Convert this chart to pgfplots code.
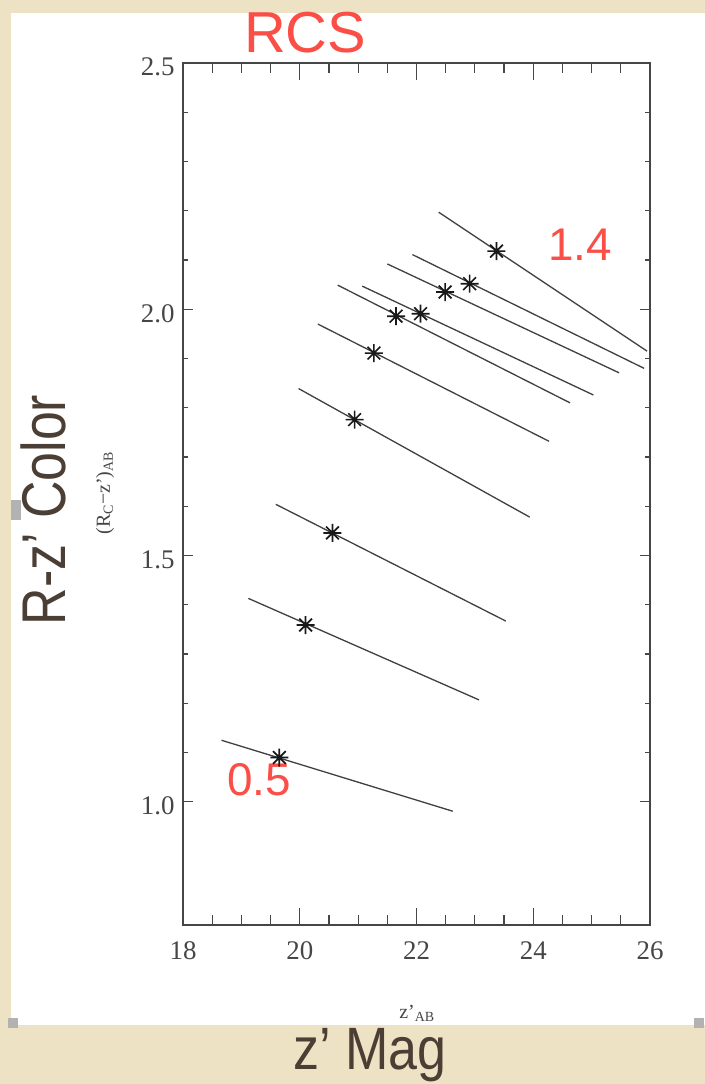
\documentclass[border=0pt]{standalone}
\usepackage{fontspec}
\setmainfont{Liberation Serif}
\newfontfamily\arialf{Liberation Sans}
\usepackage{graphicx}
\usepackage{pgfplots}
\pgfplotsset{compat=1.18}
\definecolor{parch}{RGB}{238,226,196}
\definecolor{rcsred}{RGB}{250,78,70}
\definecolor{brownt}{RGB}{75,63,53}
\definecolor{axgray}{RGB}{70,70,70}
\pgfdeclareplotmark{ast8}{%
  \pgfpathmoveto{\pgfpoint{-\pgfplotmarksize}{0pt}}\pgfpathlineto{\pgfpoint{\pgfplotmarksize}{0pt}}%
  \pgfpathmoveto{\pgfpoint{0pt}{-\pgfplotmarksize}}\pgfpathlineto{\pgfpoint{0pt}{\pgfplotmarksize}}%
  \pgfpathmoveto{\pgfpoint{-0.707\pgfplotmarksize}{-0.707\pgfplotmarksize}}\pgfpathlineto{\pgfpoint{0.707\pgfplotmarksize}{0.707\pgfplotmarksize}}%
  \pgfpathmoveto{\pgfpoint{-0.707\pgfplotmarksize}{0.707\pgfplotmarksize}}\pgfpathlineto{\pgfpoint{0.707\pgfplotmarksize}{-0.707\pgfplotmarksize}}%
  \pgfusepathqstroke}
\pgfplotsset{
  common/.style={
    at={(183bp,159bp)}, anchor=south west, scale only axis,
    width=467bp, height=862bp,
    xmin=18, xmax=26, ymin=0.75, ymax=2.5,
    tick align=inside, tick pos=both,
    axis line style={axgray, line width=1.6bp},
    tick style={axgray, line width=1.2bp},
    ticklabel style={font=\fontsize{27}{27}\selectfont, text=axgray},
    /pgf/number format/assume math mode=true,
  }
}
\begin{document}
\begin{tikzpicture}[x=1bp,y=1bp]
\useasboundingbox (0,0) rectangle (705,1084);
\fill[parch] (0,0) rectangle (705,1084);
\fill[white] (11,59) rectangle (705,1071);
\fill[gray!60] (11,564) rectangle (21,584);
\fill[gray!60] (8,56) rectangle (18,66);
\fill[gray!60] (694,56) rectangle (704,66);

\begin{axis}[common,
  xtick={18,20,22,24,26}, minor x tick num=3, ytick=\empty,
  major tick length=17bp, minor tick length=10bp,
  xticklabel style={yshift=-13bp},
  every axis plot post/.append style={black!75, solid, line width=1.3bp}]
\addplot[no markers] coordinates {(22.38,2.197) (25.95,1.915)};
\addplot[no markers] coordinates {(21.93,2.111) (25.90,1.880)};
\addplot[no markers] coordinates {(21.50,2.092) (25.47,1.871)};
\addplot[no markers] coordinates {(21.07,2.047) (25.03,1.826)};
\addplot[no markers] coordinates {(20.65,2.049) (24.63,1.810)};
\addplot[no markers] coordinates {(20.31,1.970) (24.27,1.732)};
\addplot[no markers] coordinates {(19.98,1.839) (23.94,1.578)};
\addplot[no markers] coordinates {(19.59,1.604) (23.53,1.367)};
\addplot[no markers] coordinates {(19.12,1.413) (23.07,1.207)};
\addplot[no markers] coordinates {(18.66,1.125) (22.62,0.981)};
\addplot[only marks, mark=ast8, mark size=9bp, mark options={black!90, line width=1.7bp}] coordinates {
 (23.37,2.118) (22.91,2.052) (22.49,2.035) (22.07,1.991) (21.65,1.986)
 (21.27,1.911) (20.94,1.776) (20.56,1.546) (20.10,1.359) (19.65,1.090)};
\node[text=rcsred, font=\arialf\fontsize{46}{46}\selectfont] at (axis cs:24.80,2.130) {1.4};
\node[text=rcsred, font=\arialf\fontsize{46}{46}\selectfont] at (axis cs:19.30,1.044) {0.5};
\end{axis}

\begin{axis}[common,
  xtick=\empty, ytick={1,1.5,2,2.5}, minor y tick num=4,
  major tick length=10bp, minor tick length=5bp,
  yticklabel style={xshift=-5bp, yshift=-4bp, /pgf/number format/.cd, fixed, fixed zerofill, precision=1}]
\addplot[draw=none] coordinates {(18,1)};
\end{axis}

\node[text=rcsred, font=\arialf\fontsize{58}{58}\selectfont, anchor=base] at (305,1031) {RCS};
\node[text=axgray, font=\fontsize{20}{20}\selectfont] at (417,71) {z'\textsubscript{AB}};
\node[text=axgray, font=\fontsize{20}{20}\selectfont, rotate=90] at (105,591) {(R\textsubscript{C}−z')\textsubscript{AB}};
\node[text=brownt, font=\arialf\fontsize{62}{62}\selectfont, rotate=90, anchor=base] at (65,574) {\scalebox{0.84}[1]{R-z’ Color}};
\node[text=brownt, font=\arialf\fontsize{60}{60}\selectfont, anchor=base] at (370,14) {\scalebox{0.87}[1]{z’ Mag}};
\end{tikzpicture}
\end{document}
